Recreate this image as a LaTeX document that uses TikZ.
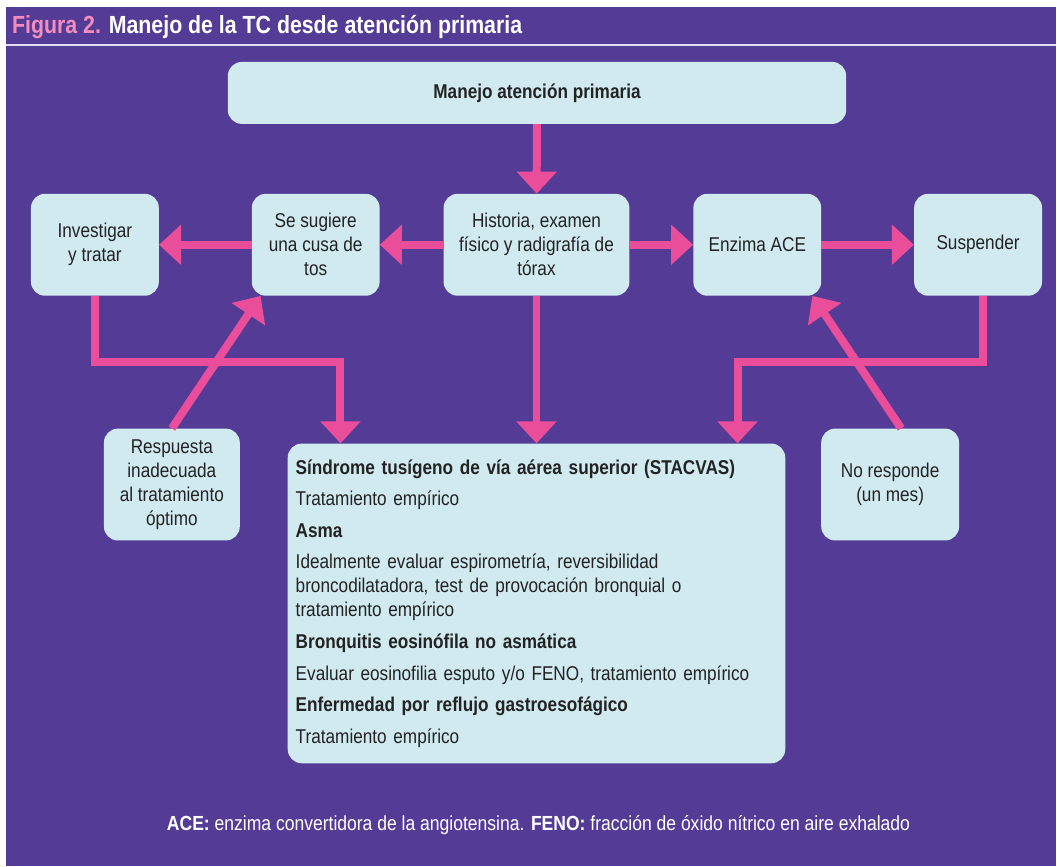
\documentclass[tikz,border=0pt]{standalone}
\usepackage{fontspec}
\setmainfont{Liberation Sans}[FakeStretch=0.86]
\usepackage{xcolor}
\usepackage{tikz}
\usetikzlibrary{arrows.meta,positioning,calc}

\definecolor{fondo}{RGB}{84,60,150}
\definecolor{rosa}{RGB}{234,78,154}
\definecolor{rosaclaro}{RGB}{244,140,190}
\definecolor{caja}{RGB}{208,234,240}
\definecolor{tinta}{RGB}{35,35,35}
\definecolor{raya}{RGB}{225,220,242}

\begin{document}
\begin{tikzpicture}[x=1pt, y=-1pt,
  paso/.style={fill=caja, rounded corners=14pt, align=center, text=tinta,
    inner sep=0pt, minimum width=128pt, minimum height=102pt,
    font=\fontsize{20}{24}\selectfont},
  aviso/.style={paso, minimum width=136pt, minimum height=112pt},
  lista/.style={fill=caja, rounded corners=14pt, align=left, text=tinta,
    inner xsep=8pt, inner ysep=0pt, text width=482pt, minimum height=320pt,
    font=\fontsize{20}{24}\selectfont},
  flecha/.style={-{Triangle[length=22pt,width=39pt]}, line width=8pt, draw=rosa}
]
% fondo y cabecera
\fill[white] (0,0) rectangle (1057,867);
\fill[fondo] (6,7) rectangle (1057,867);
\draw[raya, line width=2pt] (6,45) -- (1057,45);
\node[anchor=base west, inner sep=0pt, text=white,
  font=\fontsize{24.8}{28}\selectfont\bfseries] (titulo) at (12,34)
  {\textcolor{rosaclaro}{Figura 2.} Manejo de la TC desde atención primaria};

% cajas
\node[paso, minimum width=619pt, minimum height=62pt, font=\fontsize{20}{24}\selectfont\bfseries]
  (primaria) at (537.5,93) {Manejo atención primaria};
\node[paso] (investigar) at (95,245) {Investigar\\y tratar};
\node[paso] (sugiere) at (316,245) {Se sugiere\\una cusa de\\tos};
\node[paso, minimum width=186pt] (historia) at (537,245) {Historia, examen\\físico y radigrafía de\\tórax};
\node[paso] (enzima) at (758,245) {Enzima ACE};
\node[paso] (suspender) at (979,245) {Suspender};
\node[aviso] (respuesta) at (172,485) {Respuesta\\inadecuada\\al tratamiento\\óptimo};
\node[aviso, minimum width=138pt] (noresponde) at (891,485) {No responde\\(un mes)};
\node[lista] (causas) at (537,604) {%
  \textbf{Síndrome tusígeno de vía aérea superior (STACVAS)}\\[7.6pt]
  Tratamiento empírico\\[7.6pt]
  \textbf{Asma}\\[7.6pt]
  Idealmente evaluar espirometría, reversibilidad\\
  broncodilatadora, test de provocación bronquial o\\
  tratamiento empírico\\[7.6pt]
  \textbf{Bronquitis eosinófila no asmática}\\[7.6pt]
  Evaluar eosinofilia esputo y/o FENO, tratamiento empírico\\[7.6pt]
  \textbf{Enfermedad por reflujo gastroesofágico}\\[7.6pt]
  Tratamiento empírico};

\node[text=white, inner sep=0pt, font=\fontsize{20.4}{24}\selectfont] (pie) at (539,826)
  {\textbf{ACE:} enzima convertidora de la angiotensina. \textbf{FENO:} fracción de óxido nítrico en aire exhalado};

% flechas
\draw[flecha] (primaria) -- (historia);
\draw[flecha] (historia) -- (sugiere);
\draw[flecha] (sugiere) -- (investigar);
\draw[flecha] (historia) -- (enzima);
\draw[flecha] (enzima) -- (suspender);
\draw[flecha] (historia) -- (causas);
\draw[flecha] (investigar.south) -- ++(0,66) -| ($(causas.north west)+(53,0)$);
\draw[flecha] ($(suspender.south)+(5,0)$) -- ++(0,66) -| ($(causas.north east)+(-48,0)$);
\draw[flecha] (respuesta.north) -- ($(sugiere.south west)+(9,0)$);
\draw[flecha] ($(noresponde.north)+(11,0)$) -- ($(enzima.south east)+(-9,0)$);
\end{tikzpicture}
\end{document}
